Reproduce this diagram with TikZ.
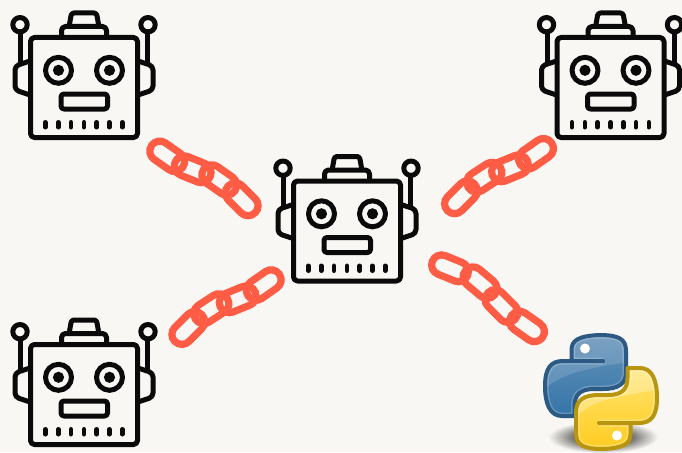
\documentclass[tikz,border=0pt]{standalone}
\definecolor{bgc}{HTML}{F9F7F3}
\definecolor{ink}{HTML}{0A0A0A}
\definecolor{linkc}{HTML}{FF5C45}
\definecolor{pyblue}{HTML}{2C5A83}
\definecolor{pybluetop}{HTML}{6592B8}
\definecolor{pybluebot}{HTML}{3474A8}
\definecolor{pyyel}{HTML}{B8950E}
\definecolor{pyyeltop}{HTML}{FFE56E}
\definecolor{pyyelbot}{HTML}{FFCB22}
\definecolor{shzero}{HTML}{4A4A48}
\definecolor{shone}{HTML}{ABAAA7}
\pgfdeclareradialshading{pyshadow}{\pgfpoint{0bp}{0bp}}{color(0bp)=(shzero);color(10bp)=(shzero);color(18bp)=(shone);color(25bp)=(bgc);color(50bp)=(bgc)}
\tikzset{
  x=1pt,y=-1pt,
  robotline/.style={draw=ink,line width=5pt,line join=round},
  linkstyle/.style={draw=linkc,line width=7.2pt,rounded corners=9.9pt},
  robot/.pic={
    \draw[robotline,rounded corners=2.5pt] (69,27) -- (71.5,13) -- (96.5,13) -- (99,27);
    \draw[robotline,rounded corners=4pt] (61.5,37) -- (61.5,26.5) -- (106.5,26.5) -- (106.5,37);
    \draw[robotline] (20.5,32) -- (20.5,63);
    \draw[robotline] (147.5,32) -- (147.5,63);
    \draw[robotline] (20,24.7) circle (7.2);
    \draw[robotline] (148,24.7) circle (7.2);
    \draw[robotline,rounded corners=4pt] (30,61) -- (15,66) -- (15,90) -- (30,95);
    \draw[robotline,rounded corners=4pt] (138,61) -- (153,66) -- (153,90) -- (138,95);
    \draw[robotline,rounded corners=4pt] (30.5,37.5) rectangle (137.5,137.5);
    \draw[robotline] (58.5,70.3) circle (13);
    \draw[robotline] (109.5,70.3) circle (13);
    \fill[ink] (58.5,70.3) circle (5.6);
    \fill[ink] (109.5,70.3) circle (5.6);
    \draw[robotline,rounded corners=3pt] (61,94) rectangle (107.5,109);
    \foreach \tx in {45.3,58.3,71,84,96.7,109.3,122.3}
      \draw[ink,line width=4.6pt,line cap=round] (\tx,122.3) -- (\tx,127.2);
  }
}
\newcommand{\chainlink}[3]{\draw[linkstyle,shift={(#1,#2)},rotate=-#3] (-19,-10) rectangle (19,10);}
\newcommand{\pysnake}{(571.5,361) -- (571.5,350) .. controls (571.5,340) and (579,336) .. (599,335)
  .. controls (619,335) and (626,339) .. (626,351) -- (626,372)
  .. controls (626,384) and (618,389) .. (603,389) -- (594,389)
  .. controls (580,389) and (574.5,395) .. (574.5,406) -- (574.5,416) -- (562,416)
  .. controls (550,416) and (545,404) .. (545,386) .. controls (545,368) and (551,361) .. (563,361)
  -- (603,361) -- cycle}
\begin{document}
\begin{tikzpicture}
\useasboundingbox (0,0) rectangle (682,452);
\fill[bgc] (0,0) rectangle (682,452);
% shadow
\shade[shading=pyshadow] (603,437) ellipse (55 and 16);
% robots
\pic (robotA) at (0,0) {robot};
\pic (robotB) at (526.5,0) {robot};
\pic (robotC) at (263,143.5) {robot};
\pic (robotD) at (0,307) {robot};
% chains
\chainlink{167.2}{156.3}{35}\chainlink{192.7}{169.3}{22}\chainlink{219.3}{180}{35}\chainlink{241.7}{199.3}{45}
\chainlink{536}{153.7}{-35}\chainlink{510}{168.3}{-22}\chainlink{484.3}{177.3}{-33}\chainlink{461}{197.3}{-45}
\chainlink{263.7}{285}{-35}\chainlink{237.7}{299.3}{-22}\chainlink{211.3}{308.7}{-33}\chainlink{188.3}{328}{-45}
\chainlink{450}{268.3}{22}\chainlink{480}{282.7}{40}\chainlink{501.5}{306}{45}\chainlink{527}{326.5}{35}
% python: blue
\shade[top color=pybluetop,bottom color=pybluebot] \pysnake;
\begin{scope}
  \clip \pysnake;
  \fill[white,opacity=.14] (546,388) .. controls (562,373) and (590,368) .. (628,362) -- (628,330) -- (540,330) -- cycle;
  \draw[white,opacity=.22,line width=7pt] \pysnake;
\end{scope}
\draw[pyblue,line width=4pt,line join=round] \pysnake;
\fill[white] (585,348.5) circle (5);
% python: yellow
\begin{scope}[rotate around={180:(601,392)}]
  \shade[top color=pyyeltop,bottom color=pyyelbot] \pysnake;
  \begin{scope}
    \clip \pysnake;
    \begin{scope}[rotate around={180:(601,392)}]
      \fill[white,opacity=.28] (578,415) .. controls (595,398) and (625,396) .. (658,389) -- (662,360) -- (570,360) -- cycle;
    \end{scope}
    \draw[white,opacity=.3,line width=7pt] \pysnake;
  \end{scope}
  \draw[pyyel,line width=4pt,line join=round] \pysnake;
  \fill[white] (585,348.5) circle (5);
\end{scope}
\end{tikzpicture}
\end{document}
